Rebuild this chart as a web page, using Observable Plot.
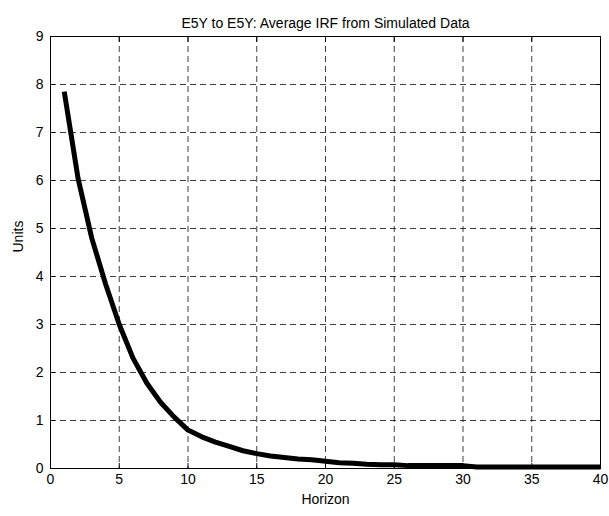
<!DOCTYPE html>
<html>
<head>
<meta charset="utf-8">
<script src="https://cdn.jsdelivr.net/npm/d3@7"></script>
<script src="https://cdn.jsdelivr.net/npm/@observablehq/plot@0.6"></script>
<style>
  body { margin: 0; background: #fff; }
  svg { font-family: "Liberation Sans", Arial, Helvetica, sans-serif; }
</style>
</head>
<body>
<div id="chart"></div>
<script>
const titleText = "E5Y to E5Y: Average IRF from Simulated Data";
const xLabel = "Horizon";
const yLabel = "Units";
const xTicks = [0, 5, 10, 15, 20, 25, 30, 35, 40];
const yTicks = [0, 1, 2, 3, 4, 5, 6, 7, 8, 9];
const horizon = [1,2,3,4,5,6,7,8,9,10,11,12,13,14,15,16,17,18,19,20,21,22,23,24,25,26,27,28,29,30,31,32,33,34,35,36,37,38,39,40];
const irf = [7.85,6.05,4.8,3.85,3.0,2.3,1.78,1.38,1.07,0.80,0.66,0.55,0.46,0.37,0.31,0.26,0.23,0.20,0.18,0.15,0.12,0.11,0.09,0.08,0.08,0.06,0.06,0.06,0.06,0.06,0.03,0.03,0.03,0.03,0.03,0.03,0.03,0.03,0.03,0.03];

const data = horizon.map((h, i) => ({h, v: irf[i]}));

const chart = Plot.plot({
  width: 609,
  height: 516,
  marginLeft: 50,
  marginRight: 9,
  marginTop: 36,
  marginBottom: 48,
  x: {domain: [0, 40]},
  y: {domain: [0, 9]},
  style: {fontSize: "14px", fontFamily: "'Liberation Sans', Arial, sans-serif", color: "#000", background: "#fff"},
  marks: [
    Plot.gridX(xTicks, {stroke: "#000", strokeOpacity: 0.75, strokeDasharray: "6,4"}),
    Plot.gridY(yTicks, {stroke: "#000", strokeOpacity: 0.75, strokeDasharray: "6,4"}),
    Plot.axisX({ticks: xTicks, tickSize: -5, tickPadding: 11, label: null, fontSize: 14}),
    Plot.axisY({ticks: yTicks, tickSize: -5, tickPadding: 12, label: null, fontSize: 14}),
    Plot.axisX({anchor: "top", ticks: xTicks, tickSize: -5, tickFormat: () => "", label: null}),
    Plot.axisY({anchor: "right", ticks: yTicks, tickSize: -5, tickFormat: () => "", label: null}),
    Plot.frame({stroke: "#000", strokeWidth: 1}),
    Plot.line(data, {x: "h", y: "v", stroke: "#000", strokeWidth: 5, strokeLinecap: "butt"}),
    Plot.text([titleText], {frameAnchor: "top", dy: -18, fontSize: 14, text: d => d}),
    Plot.text([xLabel], {frameAnchor: "bottom", dy: 35, fontSize: 14, text: d => d}),
    Plot.text([yLabel], {frameAnchor: "left", dx: -32, rotate: -90, fontSize: 14, text: d => d})
  ]
});
document.getElementById("chart").appendChild(chart);
</script>
</body>
</html>
